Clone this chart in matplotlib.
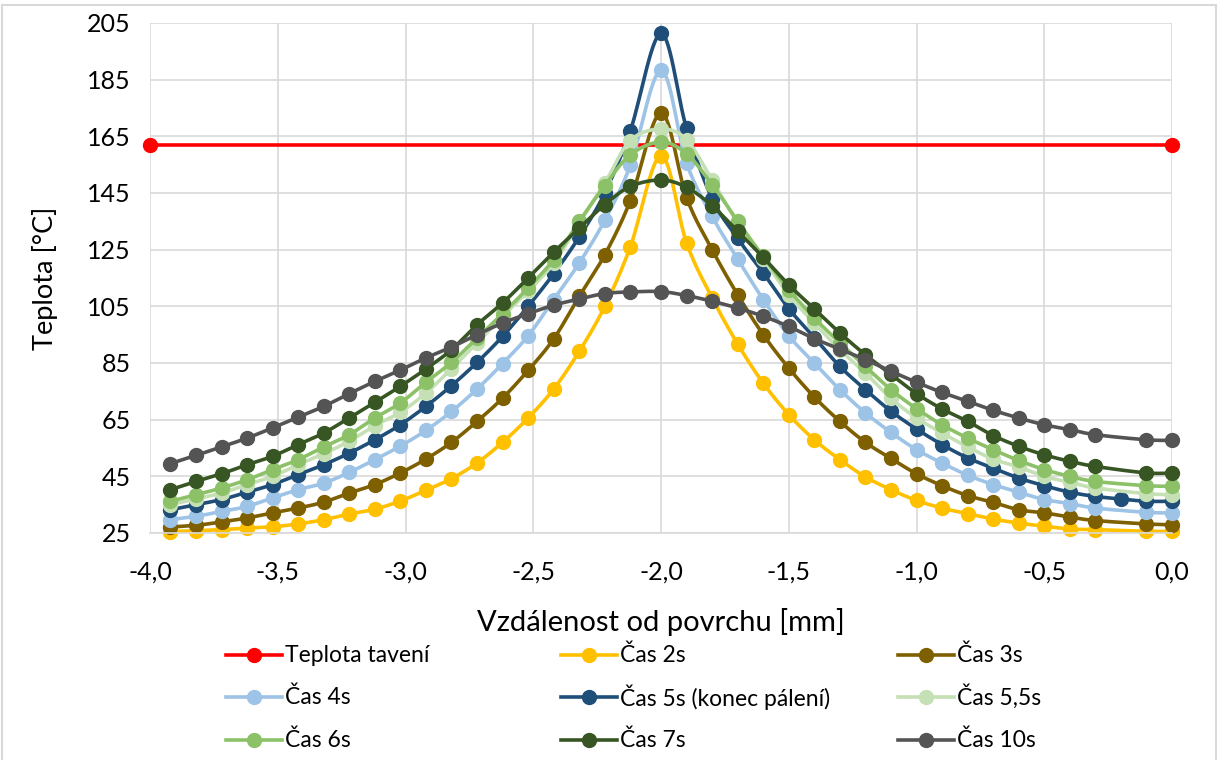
import numpy as np
import matplotlib
matplotlib.use("Agg")
import matplotlib.pyplot as plt
from matplotlib.ticker import FuncFormatter, MultipleLocator
from matplotlib.patches import Rectangle
from matplotlib.lines import Line2D

plt.rcParams["font.family"] = ["Lato", "DejaVu Sans"]

# vzdálenost od povrchu [mm]
x_cas = [-3.92, -3.82, -3.72, -3.62, -3.52, -3.42, -3.32, -3.22, -3.12, -3.02,
         -2.92, -2.82, -2.72, -2.62, -2.52, -2.42, -2.32, -2.22, -2.12, -2.0,
         -1.9, -1.8, -1.7, -1.6, -1.5, -1.4, -1.3, -1.2, -1.1, -1.0,
         -0.9, -0.8, -0.7, -0.6, -0.5, -0.4, -0.3, -0.1, 0.0]
x_cas_5s = x_cas[:-2] + [-0.2] + x_cas[-2:]
x_taveni = [-4.0, 0.0]

teplota_taveni = [162, 162]

cas_2s = [25.5, 25.8, 26.2, 26.7, 27.2, 28.2, 29.7, 31.7, 33.4, 36.3,
          40.1, 44.2, 49.7, 57.0, 65.6, 75.8, 89.1, 105.0, 126.0, 158.2,
          127.4, 108.0, 91.7, 77.9, 66.8, 57.9, 50.9, 44.8, 40.3, 36.5,
          33.8, 31.8, 29.9, 28.5, 27.4, 26.4, 26.2, 25.6, 25.6]
cas_3s = [27.1, 27.7, 28.9, 30.3, 32.1, 33.8, 35.9, 39.1, 42.1, 46.2,
          51.1, 57.0, 64.4, 72.6, 82.4, 93.5, 108.5, 123.2, 142.3, 173.3,
          143.4, 125.0, 109.1, 95.0, 83.2, 73.0, 64.4, 57.0, 51.3, 45.9,
          41.7, 38.2, 35.8, 33.2, 32.1, 30.6, 29.4, 28.2, 27.9]
cas_4s = [29.7, 30.9, 32.6, 34.4, 37.4, 40.3, 42.6, 46.4, 50.9, 55.7,
          61.2, 67.9, 75.8, 84.8, 94.6, 107.4, 120.3, 135.4, 154.8, 188.3,
          155.6, 136.8, 121.7, 107.4, 94.6, 85.0, 75.6, 67.4, 60.5, 54.4,
          49.7, 45.4, 42.1, 39.4, 36.8, 35.4, 33.8, 32.3, 32.1]
cas_5s = [33.2, 35.0, 36.8, 39.4, 42.1, 45.6, 49.1, 53.2, 57.9, 63.2,
          69.7, 77.0, 85.2, 94.4, 105.0, 116.5, 129.5, 145.0, 167.0, 201.3,
          167.8, 143.0, 129.0, 116.8, 104.2, 94.0, 83.8, 75.6, 68.0, 61.7,
          56.2, 51.5, 47.9, 44.4, 41.7, 39.4, 37.9, 37.0, 36.2, 36.2]
cas_5_5s = [35.0, 37.0, 39.1, 42.1, 45.0, 49.1, 53.0, 57.4, 62.9, 67.6,
            74.4, 83.0, 92.1, 101.5, 110.3, 120.3, 134.4, 148.5, 163.5, 167.6,
            163.8, 149.5, 134.4, 121.7, 109.1, 99.1, 89.7, 81.5, 72.5, 65.6,
            60.3, 55.4, 51.1, 48.3, 45.0, 42.9, 40.9, 38.9, 38.5]
cas_6s = [36.2, 38.5, 40.9, 43.8, 47.4, 50.9, 55.4, 59.7, 65.6, 70.9,
          78.2, 85.2, 93.8, 102.4, 111.5, 121.5, 135.0, 147.6, 158.5, 163.0,
          158.8, 148.0, 135.0, 122.6, 110.9, 100.9, 92.1, 83.8, 75.6, 68.9,
          63.2, 58.5, 54.4, 50.6, 47.4, 45.0, 43.2, 41.7, 41.5]
cas_7s = [40.3, 43.2, 45.9, 49.1, 52.1, 56.2, 60.3, 65.6, 71.1, 76.8,
          82.9, 89.7, 98.5, 106.2, 115.0, 124.1, 132.6, 140.9, 147.3, 149.6,
          147.0, 140.5, 131.5, 122.3, 112.6, 104.1, 95.6, 87.9, 81.0, 74.2,
          68.8, 64.4, 59.4, 55.6, 52.6, 50.3, 48.5, 46.2, 46.2]
cas_10s = [49.5, 52.4, 55.4, 58.5, 62.1, 65.9, 69.7, 74.2, 78.5, 82.5,
           86.8, 90.6, 95.0, 99.1, 102.4, 105.4, 107.6, 109.5, 110.1, 110.2,
           108.8, 106.8, 104.4, 101.5, 97.9, 93.6, 89.9, 86.2, 82.1, 78.2,
           74.6, 71.5, 68.3, 65.6, 63.2, 61.5, 59.7, 57.9, 57.7]

y_ticks = [25, 45, 65, 85, 105, 125, 145, 165, 185, 205]

series = [
    ("Teplota tavení", x_taveni, teplota_taveni, "#FF0000"),
    ("Čas 2s", x_cas, cas_2s, "#FFC000"),
    ("Čas 3s", x_cas, cas_3s, "#7F6000"),
    ("Čas 4s", x_cas, cas_4s, "#9DC3E6"),
    ("Čas 5s (konec pálení)", x_cas_5s, cas_5s, "#1F4E79"),
    ("Čas 5,5s", x_cas, cas_5_5s, "#C5E0B4"),
    ("Čas 6s", x_cas, cas_6s, "#8CC168"),
    ("Čas 7s", x_cas, cas_7s, "#375623"),
    ("Čas 10s", x_cas, cas_10s, "#545454"),
]

LW = 2.6
MS = 10


def smooth(x, y, n=16):
    """Vyhlazená křivka jako v Excelu (Bezier přes Catmull-Rom)."""
    p = np.column_stack([x, y]).astype(float)
    if len(p) < 3:
        return p[:, 0], p[:, 1]
    p = np.vstack([p[0], p, p[-1]])
    t = np.linspace(0, 1, n)[:, None]
    out = []
    for i in range(1, len(p) - 2):
        p0, p1, p2, p3 = p[i - 1], p[i], p[i + 1], p[i + 2]
        c1 = p1 + (p2 - p0) / 6
        c2 = p2 - (p3 - p1) / 6
        seg = ((1 - t) ** 3) * p1 + 3 * ((1 - t) ** 2) * t * c1 \
            + 3 * (1 - t) * t ** 2 * c2 + t ** 3 * p2
        out.append(seg if i == 1 else seg[1:])
    out = np.vstack(out)
    return out[:, 0], out[:, 1]


fig = plt.figure(figsize=(12.19, 7.6), dpi=100)
W, H = 1219, 760
ax = fig.add_axes([150 / W, 1 - 533 / H, 1022 / W, 510 / H])

for name, xs, ys, color in series:
    sx, sy = smooth(xs, ys)
    ax.plot(sx, sy, color=color, lw=LW, solid_capstyle="round", clip_on=False)
    ax.plot(xs, ys, "o", color=color, ms=MS, clip_on=False)

ax.set_xlim(-4.0, 0.0)
ax.set_ylim(25, 205)
ax.xaxis.set_major_locator(MultipleLocator(0.5))
ax.set_yticks(y_ticks)
ax.xaxis.set_major_formatter(FuncFormatter(lambda v, _: f"{v:.1f}".replace(".", ",")))
ax.grid(True, color="#D9D9D9", lw=1.2)
ax.set_axisbelow(True)
for s in ax.spines.values():
    s.set_visible(False)
ax.spines["bottom"].set_visible(True)
ax.spines["bottom"].set_color("#D9D9D9")
ax.spines["bottom"].set_linewidth(1.2)
ax.tick_params(length=0, labelsize=18, colors="#000000")
ax.tick_params(axis="x", pad=20)
ax.tick_params(axis="y", pad=14)

ax.set_xlabel("Vzdálenost od povrchu [mm]", fontsize=21, va="center")
ax.xaxis.set_label_coords(0.5, (533 - 622) / 510)
ax.set_ylabel("Teplota [°C]", fontsize=19.5, va="center")
ax.yaxis.set_label_coords((45 - 150) / 1022, 0.5)

# legenda: tři sloupce, řazení po řádcích
col_x = [226, 561, 898]
row_y = [655, 697, 740]
handle_len = 56
for i, (name, _, _, color) in enumerate(series):
    r, c = divmod(i, 3)
    x0, y0 = col_x[c] / W, 1 - row_y[r] / H
    fig.add_artist(Line2D([x0, x0 + handle_len / W], [y0, y0], color=color, lw=LW,
                          transform=fig.transFigure))
    fig.add_artist(Line2D([x0 + handle_len / 2 / W], [y0], marker="o", ms=MS,
                          color=color, transform=fig.transFigure))
    fig.text(x0 + (handle_len + 3) / W, y0, name, fontsize=16.5, va="center", ha="left")

fig.patches.append(Rectangle((2 / W, -0.01), 1 - 5 / W, 1.01 - 5 / H,
                             transform=fig.transFigure, fill=False,
                             edgecolor="#D9D9D9", lw=1.5))

fig.savefig("out.png", dpi=100)
